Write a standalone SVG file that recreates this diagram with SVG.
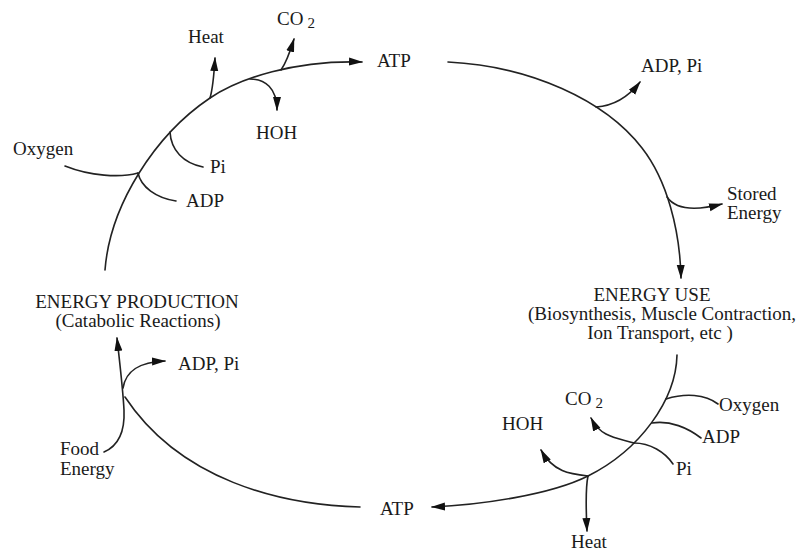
<svg xmlns="http://www.w3.org/2000/svg" width="808" height="554" viewBox="0 0 808 554">
<style>
text{font-family:"Liberation Serif","Times New Roman",serif;font-size:19px;fill:#1a1a1a}
.c{text-anchor:middle}
.ln{fill:none;stroke:#222;stroke-width:1.6;stroke-linecap:round}
.ar{marker-end:url(#ah)}
</style>
<defs>
<marker id="ah" viewBox="0 0 14 9" refX="13" refY="4.5" markerWidth="14" markerHeight="9" markerUnits="userSpaceOnUse" orient="auto">
<path d="M0,0.5 L14,4.5 L0,8.5 Z" fill="#111"/>
</marker>
</defs>
<rect width="808" height="554" fill="#fff"/>
<g id="connectors">
<!-- main cycle -->
<path class="ln ar" d="M105,270 C110,205 155,135 210,98 C240,78 295,60 362,62"/>
<path class="ln ar" d="M448,62 C530,66 605,100 642,148 C667,180 680,230 681,278"/>
<path class="ln ar" d="M677,355 C676,400 640,450 588,476 C550,495 480,505 432,507"/>
<path class="ln" d="M360,507 C280,505 180,480 125,397"/>
<path class="ln ar" d="M104,452 C118,446 125,432 124,410 C123,390 120,365 117,338"/>
<!-- production branches -->
<path class="ln ar" d="M123,388 C126,370 140,362 165,361"/>
<path class="ln" d="M65,166 C90,176 120,178 138,173"/>
<path class="ln" d="M138,173 C141,187 156,198 176,201"/>
<path class="ln" d="M170,132 C171,150 183,163 203,167"/>
<path class="ln ar" d="M210,98 C213,88 214,75 215,58"/>
<path class="ln ar" d="M250,79 C265,79 277,88 277,110"/>
<path class="ln ar" d="M281,70 C286,63 290,52 294,39"/>
<!-- use branches -->
<path class="ln ar" d="M596,107 C611,106 626,100 640,82"/>
<path class="ln ar" d="M667,197 C676,210 695,211 722,204"/>
<path class="ln" d="M666,399 C685,393 705,394 718,404"/>
<path class="ln" d="M652,423 C670,420 688,428 701,438"/>
<path class="ln" d="M634,443 C650,443 665,452 673,464"/>
<path class="ln ar" d="M634,443 C618,438 601,438 591,418"/>
<path class="ln ar" d="M588,476 C570,474 553,472 541,450"/>
<path class="ln ar" d="M588,476 C585,490 586,510 587,531"/>
</g>
<g id="energy-production"><text class="c" x="137" y="308">ENERGY PRODUCTION</text><text class="c" x="138" y="327">(Catabolic Reactions)</text></g>
<g id="energy-use"><text class="c" x="652" y="301">ENERGY USE</text><text class="c" x="662" y="320">(Biosynthesis, Muscle Contraction,</text><text class="c" x="660" y="339">Ion Transport, etc )</text></g>
<g id="atp-top"><text x="377" y="67">ATP</text></g>
<g id="atp-bottom"><text x="380" y="515">ATP</text></g>
<g id="heat-top"><text x="188" y="43">Heat</text></g>
<g id="co2-top"><text x="277" y="25">CO<tspan dx="4" dy="3" font-size="15">2</tspan></text></g>
<g id="hoh-top"><text x="256" y="139">HOH</text></g>
<g id="oxygen-top"><text x="13" y="155">Oxygen</text></g>
<g id="pi-top"><text x="210" y="173">Pi</text></g>
<g id="adp-top"><text x="186" y="207">ADP</text></g>
<g id="adp-pi-top"><text x="641" y="72">ADP, Pi</text></g>
<g id="stored-energy"><text x="727" y="200">Stored</text><text x="727" y="219">Energy</text></g>
<g id="adp-pi-left"><text x="178" y="370">ADP, Pi</text></g>
<g id="food-energy"><text x="60" y="455">Food</text><text x="60" y="475">Energy</text></g>
<g id="co2-bottom"><text x="565" y="405">CO<tspan dx="4" dy="3" font-size="15">2</tspan></text></g>
<g id="hoh-bottom"><text x="502" y="430">HOH</text></g>
<g id="oxygen-bottom"><text x="719" y="411">Oxygen</text></g>
<g id="adp-bottom"><text x="702" y="443">ADP</text></g>
<g id="pi-bottom"><text x="676" y="475">Pi</text></g>
<g id="heat-bottom"><text x="571" y="548">Heat</text></g>
</svg>
